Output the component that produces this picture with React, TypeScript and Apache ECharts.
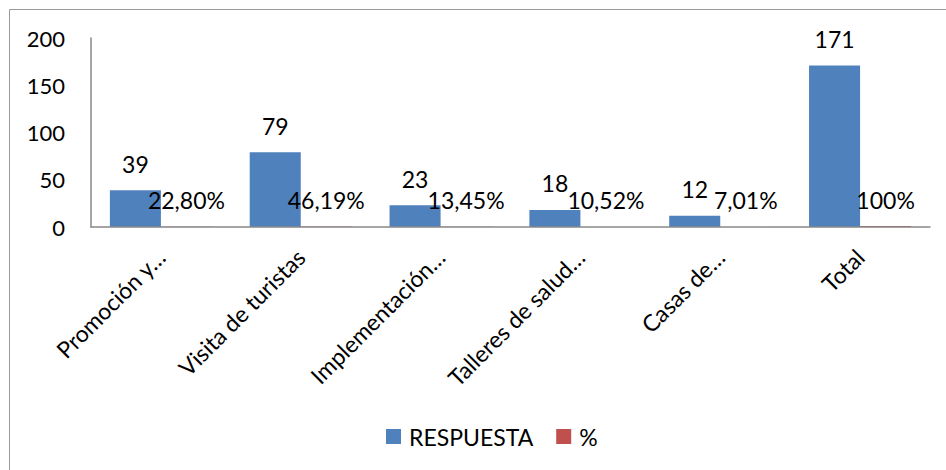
import React, { useEffect, useRef } from "react";
import * as echarts from "echarts";

const categories = [
  "Promoción y…",
  "Visita de turistas",
  "Implementación…",
  "Talleres de salud…",
  "Casas de…",
  "Total",
];
const respuesta = [39, 79, 23, 18, 12, 171];
const porcentaje = [22.8, 46.19, 13.45, 10.52, 7.01, 100];
const yTicks = { min: 0, max: 200, interval: 50 };

const FONT = "Lato";

function fmtPct(v: number): string {
  if (v === 100) return "100%";
  return v.toFixed(2).replace(".", ",") + "%";
}

export default function App() {
  const ref = useRef<HTMLDivElement>(null);
  useEffect(() => {
    if (!ref.current) return;
    const chart = echarts.init(ref.current, null, { renderer: "svg" });
    chart.setOption({
      animation: false,
      textStyle: { fontFamily: FONT },
      graphic: [
        {
          type: "rect",
          shape: { x: 9.5, y: 9.5, width: 950, height: 480 },
          style: { fill: "none", stroke: "#9a9a9a", lineWidth: 1 },
          silent: true,
        },
      ],
      legend: {
        top: 425,
        left: 386,
        itemWidth: 15,
        itemHeight: 15,
        itemGap: 23,
        icon: "rect",
        padding: 0,
        textStyle: { fontFamily: FONT, fontSize: 23, color: "#000", padding: [0, 0, 0, 3] },
        data: ["RESPUESTA", "%"],
      },
      grid: { left: 91, right: 16, top: 38, bottom: 243, containLabel: false },
      xAxis: {
        type: "category",
        data: categories,
        z: 5,
        axisLine: { lineStyle: { color: "#888", width: 1.5 } },
        axisTick: { show: false },
        axisLabel: {
          rotate: 45,
          margin: 26,
          interval: 0,
          color: "#000",
          fontFamily: FONT,
          fontSize: 23,
        },
      },
      yAxis: {
        type: "value",
        min: yTicks.min,
        max: yTicks.max,
        interval: yTicks.interval,
        splitLine: { show: false },
        axisLine: { show: true, lineStyle: { color: "#888", width: 1.5 } },
        axisTick: { show: false },
        axisLabel: { color: "#000", fontFamily: FONT, fontSize: 22, margin: 26 },
      },
      series: [
        {
          name: "RESPUESTA",
          type: "bar",
          data: respuesta,
          barGap: "0%",
          barCategoryGap: "27%",
          itemStyle: { color: "#4F81BD" },
          label: {
            show: true,
            position: "top",
            distance: 15,
            color: "#000",
            fontFamily: FONT,
            fontSize: 23,
          },
        },
        {
          name: "%",
          type: "bar",
          data: porcentaje.map((v) => v / 100),
          barGap: "0%",
          barCategoryGap: "27%",
          itemStyle: { color: "#C0504D" },
          label: {
            show: true,
            position: "top",
            distance: 15,
            color: "#000",
            fontFamily: FONT,
            fontSize: 23,
            formatter: (p: any) => fmtPct(porcentaje[p.dataIndex]),
          },
        },
      ],
    });
    return () => chart.dispose();
  }, []);
  return (
    <div
      ref={ref}
      style={{ position: "fixed", left: 0, top: 0, width: 946, height: 470, background: "#fff" }}
    />
  );
}
